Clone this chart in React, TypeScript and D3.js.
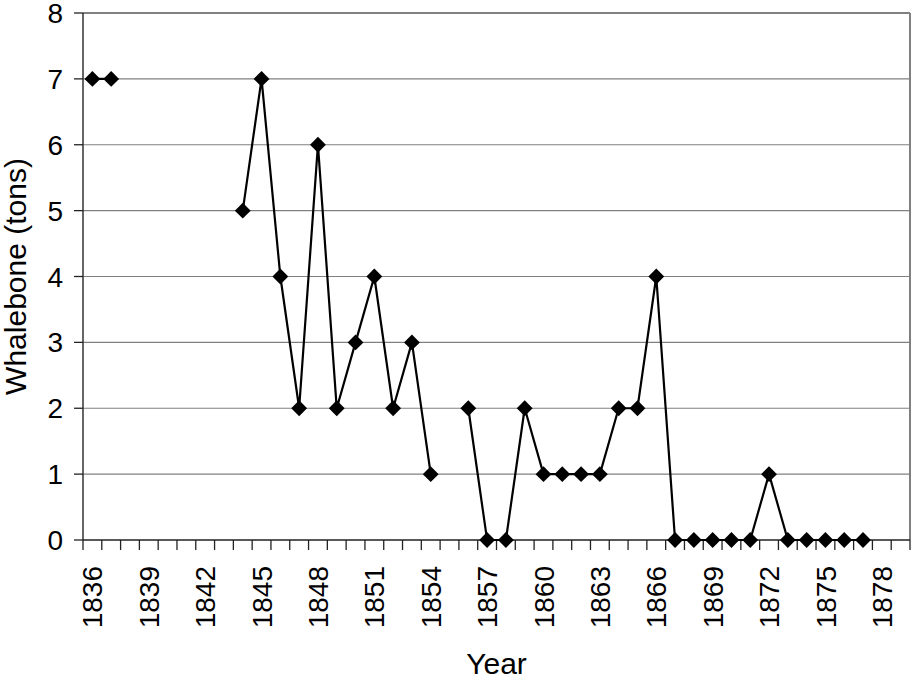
import * as d3 from "d3";
import React from "react";

const years: number[] = d3.range(1836, 1880);
const whalebone: (number | null)[] = [
  7, 7, null, null, null, null, null, null, 5, 7,
  4, 2, 6, 2, 3, 4, 2, 3, 1, null,
  2, 0, 0, 2, 1, 1, 1, 1, 2, 2,
  4, 0, 0, 0, 0, 0, 1, 0, 0, 0,
  0, 0, null, null,
];
const yTicks = [0, 1, 2, 3, 4, 5, 6, 7, 8];
const xLabelYears = d3.range(1836, 1880, 3);

const W = 912;
const H = 678;
const margin = { top: 13, right: 2, bottom: 138, left: 83 };
const font = "'Liberation Sans', Arial, sans-serif";

type Pt = { year: number; value: number | null };

export default function App() {
  const innerW = W - margin.left - margin.right;
  const innerH = H - margin.top - margin.bottom;

  const data: Pt[] = years.map((year, i) => ({ year, value: whalebone[i] }));

  const x = d3
    .scaleBand<number>()
    .domain(years)
    .range([0, innerW])
    .padding(0);
  const y = d3.scaleLinear().domain([0, 8]).range([innerH, 0]);

  const cx = (yr: number) => (x(yr) ?? 0) + x.bandwidth() / 2;

  const line = d3
    .line<Pt>()
    .defined((d) => d.value != null)
    .x((d) => cx(d.year))
    .y((d) => y(d.value as number));

  const diamond = d3.symbol().type(d3.symbolDiamond2).size(160)();
  const boundaries = d3.range(0, years.length + 1).map((i) => i * x.step());

  return (
    <svg
      width={W}
      height={H}
      style={{ position: "absolute", left: 0, top: 0, background: "#fff" }}
    >
      <g transform={`translate(${margin.left},${margin.top})`}>
        {/* gridlines */}
        {yTicks.slice(1).map((t) => (
          <line key={t} x1={0} x2={innerW} y1={y(t)} y2={y(t)} stroke="#808080" strokeWidth={1.2} />
        ))}
        {/* plot border top/right */}
        <line x1={0} x2={innerW} y1={0} y2={0} stroke="#808080" strokeWidth={2} />
        <line x1={innerW} x2={innerW} y1={0} y2={innerH} stroke="#808080" strokeWidth={2} />

        {/* y axis */}
        <line x1={0} x2={0} y1={0} y2={innerH} stroke="#333" strokeWidth={1.5} />
        {yTicks.map((t) => (
          <g key={t} transform={`translate(0,${y(t)})`}>
            <line x1={-9} x2={0} stroke="#222" strokeWidth={1.3} />
            <text
              x={-20}
              dy="0.36em"
              textAnchor="end"
              fontFamily={font}
              fontSize={28}
              fill="#000"
            >
              {t}
            </text>
          </g>
        ))}

        {/* x axis */}
        <line x1={0} x2={innerW} y1={innerH} y2={innerH} stroke="#222" strokeWidth={1.5} />
        {boundaries.map((b, i) => (
          <line key={i} x1={b} x2={b} y1={innerH} y2={innerH + 10} stroke="#222" strokeWidth={1.3} />
        ))}
        {xLabelYears.map((yr) => (
          <text
            key={yr}
            transform={`translate(${cx(yr)},${innerH + 26}) rotate(-90)`}
            textAnchor="end"
            dy="0.36em"
            fontFamily={font}
            fontSize={28}
            fill="#000"
          >
            {yr}
          </text>
        ))}

        {/* series */}
        <path d={line(data) ?? ""} fill="none" stroke="#000" strokeWidth={2.2} />
        {data
          .filter((d) => d.value != null)
          .map((d) => (
            <path
              key={d.year}
              d={diamond ?? ""}
              transform={`translate(${cx(d.year)},${y(d.value as number)})`}
              fill="#000"
            />
          ))}
      </g>

      <text
        x={margin.left + innerW / 2}
        y={H - 4}
        textAnchor="middle"
        fontFamily={font}
        fontSize={30}
        fill="#000"
      >
        Year
      </text>
      <text
        transform={`translate(26,${margin.top + innerH / 2}) rotate(-90)`}
        textAnchor="middle"
        fontFamily={font}
        fontSize={30}
        fill="#000"
      >
        Whalebone (tons)
      </text>
    </svg>
  );
}
